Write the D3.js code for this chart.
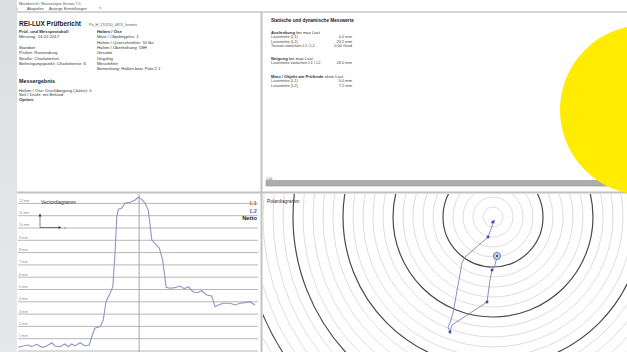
<!DOCTYPE html>
<html>
<head>
<meta charset="utf-8">
<script src="https://cdn.jsdelivr.net/npm/d3@7"></script>
<style>
  html, body { margin: 0; padding: 0; background: #fff; }
  svg { display: block; font-family: "Liberation Sans", Arial, sans-serif; }
</style>
</head>
<body>
<svg id="chart" width="627" height="352"></svg>
<script>
// ---- Vectordiagramm: time (s) and deflection (mm) of the trace ----
const vecTime = [0.0, 1.3, 2.6, 3.4, 4.7, 6.0, 7.2, 8.5, 9.3, 10.5, 11.8, 12.6, 13.5, 14.3, 15.6, 16.8, 17.9,
  18.5, 19.3, 20.6, 21.4, 22.1, 23.1, 23.8, 24.4, 24.8, 25.2, 26.0, 26.9, 27.7, 28.5, 29.4, 30.2, 31.1,
  31.9, 32.7, 33.6, 34.4, 35.5, 36.3, 37.2, 38.2, 39.4, 40.7, 41.7, 42.8, 43.9, 45.0, 46.1, 47.4, 48.6,
  49.5, 50.3, 51.5, 53.2, 54.5, 55.7, 57.0, 58.2, 59.5];
const vecValue = [0.30, 0.41, 0.49, 0.35, 0.54, 0.30, 0.41, 0.67, 0.41, 0.35, 0.57, 0.35, 0.57, 0.41, 0.67, 0.41, 0.49,
  1.16, 1.85, 1.98, 2.52, 4.01, 4.69, 5.23, 8.21, 10.92, 11.52, 11.60, 12.01, 12.06, 12.14, 12.28, 12.50, 12.33,
  12.01, 11.46, 9.02, 8.76, 8.35, 7.40, 5.18, 5.10, 5.15, 5.28, 5.07, 5.23, 4.82, 4.74, 4.90, 4.55, 4.47,
  3.60, 3.74, 3.88, 3.88, 3.74, 3.88, 3.93, 4.01, 3.74];
const vecTicks = [0, 1, 2, 3, 4, 5, 6, 7, 8, 9, 10, 11, 12];
const vecCursor = 30.4;
const legendNames = ["L1", "L2", "Netto"];

// ---- Polardiagramm: head position of the mast (mm, east / north) ----
const polarX = [0.0, 0.2, -0.2, 0.1, -0.5, -2.8, -3.1, -4.0, -4.3, -4.5, -4.3, -4.1, -0.6, -0.3, -0.1, 0.2, 0.4];
const polarY = [-0.5, -0.3, -0.6, -0.4, -2.0, -4.0, -4.6, -9.6, -10.6, -11.0, -11.5, -10.8, -8.5, -6.3, -5.3, -4.8, -3.9];
const polarMarks = [0, 4, 10, 12, 14];
const polarRings = d3.range(1, 31);

// ---- Report text ----
const menuItems = [["Datei", 9], ["Abspielen", 27], ["Anzeige", 49], ["Einstellungen", 64], ["?", 99]];
const reportLeft = [
  ["Prüf- und Messprotokoll", true], ["Messtag:   14.02.2017", false], ["", false],
  ["Standort", false], ["Prüfort:   Ravensburg", false], ["Straße:   Charlottenstr.", false],
  ["Befestigungspunkt:   Charlottenstr. 6", false]];
const reportRight = [
  ["Halten / Öse", true], ["Mast / Objekttyp/ex:   1", false], ["Halten / Querschnitt/er:   55 lbs", false],
  ["Halten / Überhöhung:   58H", false], ["Gesamt", false], ["Ungültig", false], ["Messfehler", false],
  ["Bemerkung:   Halten bzw. Polo 2.1", false]];
const resultLines = ["Halten / Öse:  Durchbiegung (Jahre):   0", "Seil / Draht:   mit Befund", "Option:"];
const measureGroups = [
  { head: "Auslenkung", note: "bei max Last", rows: [["Lasermitte (L1)", "0.0 mm"], ["Lasermitte (L2)", "20.5 mm"], ["Torsion zwischen L1 / L2", "0.00 Grad"]] },
  { head: "Neigung", note: "bei max Last", rows: [["Lasermitte zwischen L1 / L2", "26.0 mm"]] },
  { head: "Mast / Objekt am Prüfende", note: "ohne Last", rows: [["Lasermitte (L1)", "0.0 mm"], ["Lasermitte (L2)", "7.2 mm"]] }];
const groupTops = [32.5, 58.5, 76.5];

const svg = d3.select("#chart");
const W = 627, H = 352;
svg.append("rect").attr("width", W).attr("height", H).attr("fill", "#fff");

// window chrome
svg.append("text").attr("x", 19).attr("y", 4.6).attr("font-size", 3.6).attr("fill", "#555")
  .text("Messbericht / Mastanalyse Version 7.0");
menuItems.forEach(m => {
  svg.append("text").attr("x", m[1]).attr("y", 9.9).attr("font-size", 3.8).attr("fill", "#444").text(m[0]);
});
svg.append("line").attr("x1", 17).attr("x2", W).attr("y1", 12).attr("y2", 12)
  .attr("stroke", "#c9c5c1").attr("stroke-width", 1.6);

// ---- top-left report panel ----
const tl = svg.append("g");
tl.append("text").attr("x", 19).attr("y", 26).attr("font-size", 7.4).attr("font-weight", "bold")
  .attr("fill", "#1a1a1a").attr("textLength", 62).attr("lengthAdjust", "spacingAndGlyphs").text("REI-LUX Prüfbericht");
tl.append("text").attr("x", 89).attr("y", 25.5).attr("font-size", 3.7).attr("fill", "#555")
  .text("Pa_H_170210_0874_Inventu");
reportLeft.forEach((d, i) => {
  tl.append("text").attr("x", 19).attr("y", 33 + i * 5.3).attr("font-size", 4.3)
    .attr("font-weight", d[1] ? "bold" : "normal").attr("fill", "#333").text(d[0]);
});
reportRight.forEach((d, i) => {
  tl.append("text").attr("x", 97).attr("y", 33 + i * 5.3).attr("font-size", 4.3)
    .attr("font-weight", d[1] ? "bold" : "normal").attr("fill", "#333").text(d[0]);
});
tl.append("text").attr("x", 19).attr("y", 82.5).attr("font-size", 5.4).attr("font-weight", "bold")
  .attr("fill", "#222").text("Messergebnis");
resultLines.forEach((t, i) => {
  tl.append("text").attr("x", 19).attr("y", 92 + i * 4.3).attr("font-size", 4.3)
    .attr("font-weight", i === 2 ? "bold" : "normal").attr("fill", "#333").text(t);
});

// ---- top-right measurement panel ----
const tr = svg.append("g");
tr.append("text").attr("x", 271).attr("y", 22.3).attr("font-size", 4.6).attr("font-weight", "bold")
  .attr("fill", "#222").text("Statische und dynamische Messwerte");
measureGroups.forEach((g, gi) => {
  let yy = groupTops[gi] + 1.5;
  const t = tr.append("text").attr("x", 271).attr("y", yy).attr("font-size", 4.2).attr("fill", "#333");
  t.append("tspan").attr("font-weight", "bold").text(g.head);
  t.append("tspan").text("  " + g.note);
  g.rows.forEach(r => {
    yy += 4.3;
    tr.append("text").attr("x", 271).attr("y", yy).attr("font-size", 4).attr("fill", "#444").text(r[0]);
    tr.append("text").attr("x", 352).attr("y", yy).attr("font-size", 4).attr("fill", "#444")
      .attr("text-anchor", "end").text(r[1]);
  });
});
// progress / time bar
tr.append("text").attr("x", 266).attr("y", 179.5).attr("font-size", 3.2).attr("fill", "#555").text("1.00");
tr.append("rect").attr("x", 266).attr("y", 180.5).attr("width", 350).attr("height", 5.5)
  .attr("fill", "#adadad").attr("stroke", "#8f8f8f").attr("stroke-width", 0.6);

// panel dividers
svg.append("line").attr("x1", 17).attr("x2", W).attr("y1", 192.5).attr("y2", 192.5)
  .attr("stroke", "#c2c2c2").attr("stroke-width", 2.2);
svg.append("line").attr("x1", 261.5).attr("x2", 261.5).attr("y1", 12).attr("y2", H)
  .attr("stroke", "#c2c2c2").attr("stroke-width", 2);

// ---- Vectordiagramm ----
const vx = d3.scaleLinear().domain([0, 60]).range([18, 257]);
const vy = d3.scaleLinear().domain([0, 12]).range([351, 203.4]);
const vg = svg.append("g");
vg.selectAll("line.grid").data(vecTicks).join("line").attr("class", "grid")
  .attr("x1", 18).attr("x2", 258).attr("y1", d => vy(d)).attr("y2", d => vy(d))
  .attr("stroke", "#a3a3a3").attr("stroke-width", 0.8);
vg.selectAll("text.tick").data(vecTicks.filter(d => d > 0)).join("text").attr("class", "tick")
  .attr("x", 19).attr("y", d => vy(d) - 1.6).attr("font-size", 3.4).attr("fill", "#8a8a8a")
  .text(d => d + " mm");
vg.append("line").attr("x1", vx(vecCursor)).attr("x2", vx(vecCursor)).attr("y1", 194).attr("y2", H)
  .attr("stroke", "#9a9a9a").attr("stroke-width", 0.9);
vg.append("path").datum(d3.range(vecTime.length))
  .attr("d", d3.line().x(i => vx(vecTime[i])).y(i => vy(vecValue[i])))
  .attr("fill", "none").attr("stroke", "#8f96c8").attr("stroke-width", 1.1);
vg.append("text").attr("x", 41).attr("y", 203.5).attr("font-size", 4.8).attr("fill", "#333").text("Vectordiagramm");
// axis icon
vg.append("line").attr("x1", 40).attr("x2", 40).attr("y1", 214).attr("y2", 227.5).attr("stroke", "#333").attr("stroke-width", 0.6);
vg.append("line").attr("x1", 40).attr("x2", 61).attr("y1", 227.5).attr("y2", 227.5).attr("stroke", "#333").attr("stroke-width", 0.6);
vg.append("path").attr("d", "M38.6,216.5 L40,213.5 L41.4,216.5 Z").attr("fill", "#333");
vg.append("path").attr("d", "M58.5,226.2 L61.5,227.5 L58.5,228.8 Z").attr("fill", "#333");
vg.append("text").attr("x", 64).attr("y", 228.5).attr("font-size", 3).attr("fill", "#555").text("x");
const legendColors = ["#e0603a", "#5868b8", "#1a1a1a"];
legendNames.forEach((n, i) => {
  vg.append("text").attr("x", 257).attr("y", 205 + i * 7.6).attr("text-anchor", "end")
    .attr("font-size", i === 2 ? 5.8 : 6.2).attr("font-weight", "bold").attr("fill", legendColors[i]).text(n);
});

// ---- Polardiagramm ----
svg.append("clipPath").attr("id", "polarClip").append("rect")
  .attr("x", 263).attr("y", 194).attr("width", W - 263).attr("height", H - 194);
const cx = 493, cy = 217;
const pr = d3.scaleLinear().domain([0, 1]).range([0, 10]);
const px = d3.scaleLinear().domain([0, 1]).range([cx, cx + 10]);
const py = d3.scaleLinear().domain([0, 1]).range([cy, cy - 10]);
const pg = svg.append("g").attr("clip-path", "url(#polarClip)");
pg.selectAll("circle.ring").data(polarRings).join("circle").attr("class", "ring")
  .attr("cx", cx).attr("cy", cy).attr("r", d => pr(d)).attr("fill", "none")
  .attr("stroke", d => d % 5 === 0 ? "#4a4a4a" : "#cfcfcf")
  .attr("stroke-width", d => d % 5 === 0 ? 1.2 : 0.7);
pg.append("path").datum(d3.range(polarX.length))
  .attr("d", d3.line().x(i => px(polarX[i])).y(i => py(polarY[i])))
  .attr("fill", "none").attr("stroke", "#7a82c2").attr("stroke-width", 0.9);
pg.selectAll("rect.mark").data(polarMarks).join("rect").attr("class", "mark")
  .attr("x", i => px(polarX[i]) - 1.3).attr("y", i => py(polarY[i]) - 1.3)
  .attr("width", 2.6).attr("height", 2.6).attr("fill", "#3c4a9a");
const last = polarX.length - 1;
pg.append("circle").attr("cx", px(polarX[last])).attr("cy", py(polarY[last])).attr("r", 3.6)
  .attr("fill", "#bcd2ea").attr("stroke", "#5a6ab0").attr("stroke-width", 0.8);
pg.append("circle").attr("cx", px(polarX[last])).attr("cy", py(polarY[last])).attr("r", 1.1).attr("fill", "#334");
svg.append("text").attr("x", 267).attr("y", 203).attr("font-size", 4.8).attr("fill", "#333").text("Polardiagramm");

// left desktop strip
const grad = svg.append("defs").append("linearGradient").attr("id", "strip").attr("x1", 0).attr("x2", 0).attr("y1", 0).attr("y2", 1);
grad.append("stop").attr("offset", 0).attr("stop-color", "#dcdee0");
grad.append("stop").attr("offset", 1).attr("stop-color", "#e6e8ea");
svg.append("rect").attr("x", 0).attr("y", 0).attr("width", 17).attr("height", H).attr("fill", "url(#strip)");

// brand dot
svg.append("circle").attr("cx", 645).attr("cy", 110).attr("r", 85).attr("fill", "#ffec00");
</script>
</body>
</html>
